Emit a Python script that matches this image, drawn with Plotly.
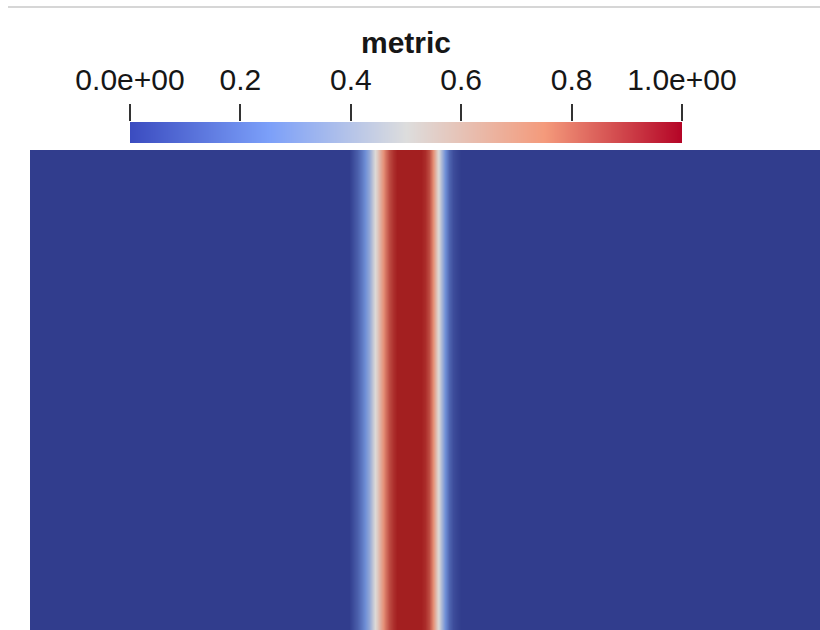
import plotly.graph_objects as go

# Horizontal profile of the metric across the band (screen-pixel-like x units)
band_x = [30, 337, 349, 353, 357, 361, 365, 369, 373, 377, 381, 385, 389, 393, 397,
          401, 405, 409, 413, 417, 421, 425, 429, 433, 437, 441, 445, 449, 453, 457,
          461, 473, 820]
band_z = [0.0, 0.0, 0.0, 0.05, 0.1, 0.17, 0.25, 0.33, 0.45, 0.55, 0.68, 0.8, 0.9, 0.96, 1.0,
          1.0, 1.0, 1.0, 1.0, 1.0, 1.0, 0.97, 0.9, 0.75, 0.55, 0.4, 0.25, 0.12, 0.05, 0.02,
          0.0, 0.0, 0.0]
y_edges = [0, 480]

# colour legend (scalar bar)
tick_vals = [0.0, 0.2, 0.4, 0.6, 0.8, 1.0]
tick_text = ["0.0e+00", "0.2", "0.4", "0.6", "0.8", "1.0e+00"]
legend_title = "metric"

# shaded (lit) colours of the surface and the plain legend colours
surface_scale = [[0.0, "#313d8d"], [0.25, "#6f8fd6"], [0.5, "#dcd9d6"],
                 [0.75, "#e58f76"], [1.0, "#a31f20"]]
legend_scale = [[0.0, "#3b4cc0"], [0.25, "#7b9ff9"], [0.5, "#dddddd"],
                [0.75, "#f49a7b"], [1.0, "#b40426"]]

font_family = "Liberation Sans, Arial, sans-serif"
text_color = "#161616"

fig = go.Figure()
fig.add_trace(go.Heatmap(
    x=band_x, y=y_edges, z=[band_z],
    colorscale=surface_scale, zmin=0, zmax=1,
    zsmooth="best", showscale=False, hoverinfo="skip",
))
# scalar bar drawn as a heatmap over the tick values on its own axes
fig.add_trace(go.Heatmap(
    x=tick_vals, y=[0, 1], z=[tick_vals],
    colorscale=legend_scale, zmin=0, zmax=1,
    zsmooth="best", showscale=False, hoverinfo="skip",
    xaxis="x2", yaxis="y2",
))

fig.update_layout(
    width=820, height=630, margin=dict(l=0, r=0, t=0, b=0, autoexpand=False),
    paper_bgcolor="white", plot_bgcolor="white", showlegend=False,
    xaxis=dict(range=[30, 820], domain=[30 / 820, 1], visible=False, fixedrange=True),
    yaxis=dict(range=[0, 480], domain=[0, 480 / 630], visible=False, fixedrange=True),
    xaxis2=dict(range=[0, 1], domain=[130 / 820, 682 / 820], anchor="y2", side="top",
                tickmode="array", tickvals=tick_vals, ticktext=tick_text,
                ticks="outside", ticklen=17, tickwidth=1.5, tickcolor="#333333",
                ticklabelstandoff=2,
                showgrid=False, zeroline=False, showline=False, fixedrange=True,
                tickfont=dict(family=font_family, size=30, color=text_color),
                title=dict(text="<b>" + legend_title + "</b>", standoff=0,
                           font=dict(family=font_family, size=30, color=text_color))),
    yaxis2=dict(range=[0, 1], domain=[(630 - 143) / 630, (630 - 122) / 630], anchor="x2",
                visible=False, fixedrange=True),
    shapes=[dict(type="line", xref="paper", yref="paper", x0=8 / 820, x1=1,
                 y0=(630 - 7) / 630, y1=(630 - 7) / 630,
                 line=dict(color="#d6d6d6", width=2))],
)

fig.write_html("out.html",
               config={"displayModeBar": False},
               post_script="document.body.style.margin='0';document.body.style.overflow='hidden';")
